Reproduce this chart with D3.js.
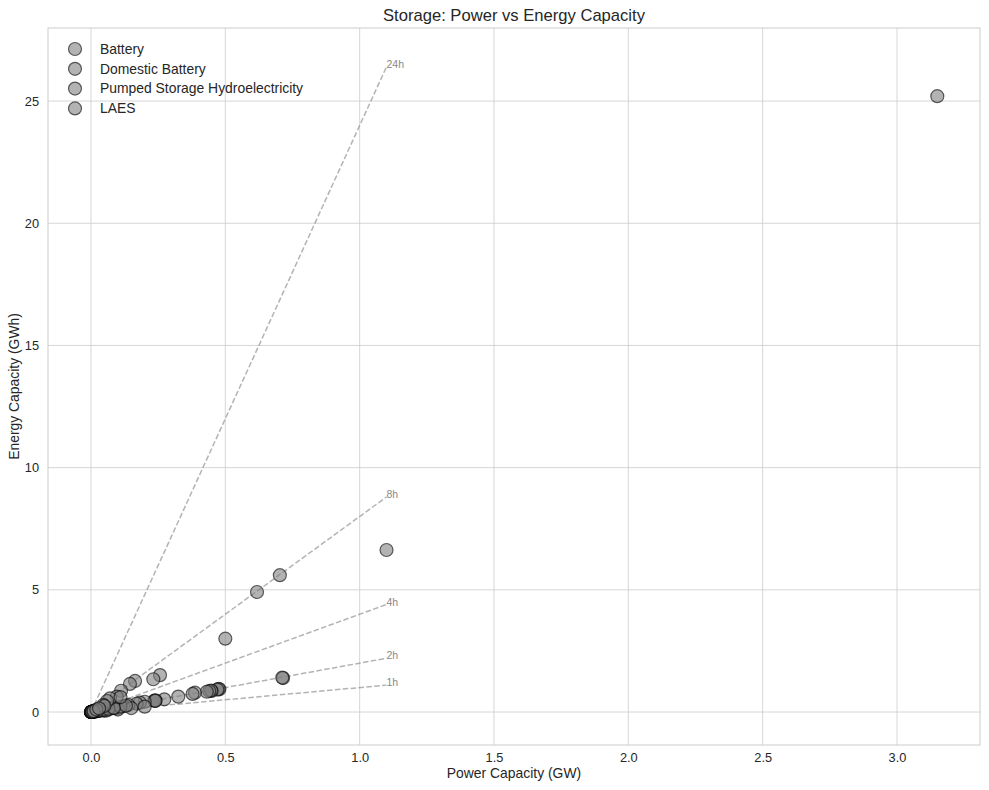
<!DOCTYPE html>
<html>
<head>
<meta charset="utf-8">
<script src="https://cdn.jsdelivr.net/npm/d3@7"></script>
<style>
  body { margin: 0; background: #fff; font-family: "Liberation Sans", Arial, sans-serif; }
</style>
</head>
<body>
<script>
// Series (power in GW, energy in GWh)
const seriesNames = ["Battery", "Domestic Battery", "Pumped Storage Hydroelectricity", "LAES"];

const batteryPower = [1.1, 0.5, 0.715, 0.712, 0.478, 0.475, 0.47, 0.449, 0.447, 0.44, 0.431, 0.387, 0.378, 0.325, 0.273, 0.24, 0.238, 0.236, 0.24, 0.2, 0.182, 0.17, 0.139, 0.12, 0.098, 0.09, 0.07, 0.06, 0.05, 0.04, 0.03, 0.025, 0.02, 0.015, 0.01, 0.05, 0.1, 0.15, 0.2, 0.03, 0.06, 0.08, 0.11, 0.13, 0.035, 0.045, 0.02, 0.012, 0.065, 0.085, 0.025];
const batteryEnergy = [6.63, 3.0, 1.39, 1.41, 0.93, 0.95, 0.92, 0.86, 0.88, 0.86, 0.83, 0.79, 0.74, 0.63, 0.52, 0.48, 0.45, 0.47, 0.46, 0.42, 0.38, 0.34, 0.29, 0.24, 0.15, 0.18, 0.14, 0.12, 0.1, 0.08, 0.06, 0.05, 0.04, 0.03, 0.02, 0.05, 0.1, 0.16, 0.22, 0.05, 0.07, 0.16, 0.22, 0.26, 0.07, 0.09, 0.03, 0.02, 0.13, 0.17, 0.05];

const domesticPower = [0.0, 0.001, 0.002, 0.003, 0.005, 0.004, 0.001, 0.002, 0.006, 0.008, 0.003, 0.002, 0.001, 0.004, 0.005, 0.0, 0.001, 0.003, 0.007, 0.01];
const domesticEnergy = [0.0, 0.002, 0.005, 0.01, 0.013, 0.008, 0.003, 0.004, 0.012, 0.02, 0.006, 0.002, 0.001, 0.01, 0.015, 0.001, 0.0, 0.004, 0.01, 0.01];

const pumpedPower = [3.15, 0.703, 0.618, 0.257, 0.232, 0.164, 0.145, 0.112, 0.096, 0.071, 0.06, 0.046, 0.11];
const pumpedEnergy = [25.2, 5.6, 4.91, 1.51, 1.34, 1.27, 1.15, 0.87, 0.63, 0.56, 0.45, 0.29, 0.61];

const laesPower = [0.05, 0.005, 0.01, 0.02, 0.03];
const laesEnergy = [0.25, 0.015, 0.04, 0.1, 0.15];

// Reference duration lines
const durations = [1, 2, 4, 8, 24];
const durationLabels = ["1h", "2h", "4h", "8h", "24h"];
const lineMaxPower = 1.1;

const xTicks = [0.0, 0.5, 1.0, 1.5, 2.0, 2.5, 3.0];
const yTicks = [0, 5, 10, 15, 20, 25];

const W = 989, H = 790;
const margin = {left: 48, right: 9, top: 28, bottom: 45};
const font = "'Liberation Sans', Arial, sans-serif";

const svg = d3.select("body").append("svg")
  .attr("width", W).attr("height", H)
  .style("font-family", font);

const x = d3.scaleLinear().domain([-0.16, 3.309]).range([margin.left, W - margin.right]);
const y = d3.scaleLinear().domain([-1.35, 27.99]).range([H - margin.bottom, margin.top]);

// grid
const grid = svg.append("g");
grid.selectAll(".gx").data(xTicks).enter().append("line")
  .attr("x1", d => x(d)).attr("x2", d => x(d))
  .attr("y1", margin.top).attr("y2", H - margin.bottom)
  .attr("stroke", "#cccccc").attr("stroke-width", 0.8);
grid.selectAll(".gy").data(yTicks).enter().append("line")
  .attr("y1", d => y(d)).attr("y2", d => y(d))
  .attr("x1", margin.left).attr("x2", W - margin.right)
  .attr("stroke", "#cccccc").attr("stroke-width", 0.8);

// spines
svg.append("rect")
  .attr("x", margin.left).attr("y", margin.top)
  .attr("width", W - margin.left - margin.right)
  .attr("height", H - margin.top - margin.bottom)
  .attr("fill", "none").attr("stroke", "#cccccc").attr("stroke-width", 1);

// axes
const xAxis = svg.append("g")
  .attr("transform", `translate(0,${H - margin.bottom})`)
  .call(d3.axisBottom(x).tickValues(xTicks).tickFormat(d3.format(".1f")).tickSize(0).tickPadding(8));
const yAxis = svg.append("g")
  .attr("transform", `translate(${margin.left},0)`)
  .call(d3.axisLeft(y).tickValues(yTicks).tickFormat(d3.format("d")).tickSize(0).tickPadding(9));
[xAxis, yAxis].forEach(a => {
  a.select(".domain").remove();
  a.selectAll("text")
    .attr("fill", "#262626")
    .style("font-size", "12.8px")
    .style("font-family", font);
});

// duration lines
const lineGen = d3.line().x(d => x(d[0])).y(d => y(d[1]));
durations.forEach((h, i) => {
  svg.append("path")
    .attr("d", lineGen([[0, 0], [lineMaxPower, lineMaxPower * h]]))
    .attr("fill", "none")
    .attr("stroke", "gray").attr("stroke-opacity", 0.6)
    .attr("stroke-width", 1.5)
    .attr("stroke-dasharray", "5.5,2.4");
  svg.append("text")
    .attr("x", x(lineMaxPower))
    .attr("y", y(lineMaxPower * h))
    .attr("dy", "0.1em")
    .attr("fill", "#888888")
    .style("font-size", "10.5px")
    .text(durationLabels[i]);
});

// scatter
const series = [
  [batteryPower, batteryEnergy],
  [domesticPower, domesticEnergy],
  [pumpedPower, pumpedEnergy],
  [laesPower, laesEnergy]
];
series.forEach(([p, e]) => {
  const pts = p.map((v, i) => [v, e[i]]);
  svg.append("g").selectAll("circle").data(pts).enter().append("circle")
    .attr("cx", d => x(d[0])).attr("cy", d => y(d[1]))
    .attr("r", 6.5)
    .attr("fill", "gray").attr("fill-opacity", 0.6)
    .attr("stroke", "black").attr("stroke-opacity", 0.6)
    .attr("stroke-width", 1.2);
});

// legend
const legend = svg.append("g");
seriesNames.forEach((name, i) => {
  const ly = 49 + i * 19.8;
  legend.append("circle")
    .attr("cx", 75).attr("cy", ly).attr("r", 6.5)
    .attr("fill", "gray").attr("fill-opacity", 0.6)
    .attr("stroke", "black").attr("stroke-opacity", 0.6)
    .attr("stroke-width", 1.2);
  legend.append("text")
    .attr("x", 100).attr("y", ly).attr("dy", "0.35em")
    .attr("fill", "#262626")
    .style("font-size", "13.9px")
    .text(name);
});

// title and labels
svg.append("text")
  .attr("x", (margin.left + W - margin.right) / 2).attr("y", 21)
  .attr("text-anchor", "middle").attr("fill", "#262626")
  .style("font-size", "16.6px")
  .text("Storage: Power vs Energy Capacity");
svg.append("text")
  .attr("x", (margin.left + W - margin.right) / 2).attr("y", 778)
  .attr("text-anchor", "middle").attr("fill", "#262626")
  .style("font-size", "13.9px")
  .text("Power Capacity (GW)");
svg.append("text")
  .attr("transform", `translate(19,${(margin.top + H - margin.bottom) / 2}) rotate(-90)`)
  .attr("text-anchor", "middle").attr("fill", "#262626")
  .style("font-size", "13.9px")
  .text("Energy Capacity (GWh)");
</script>
</body>
</html>
